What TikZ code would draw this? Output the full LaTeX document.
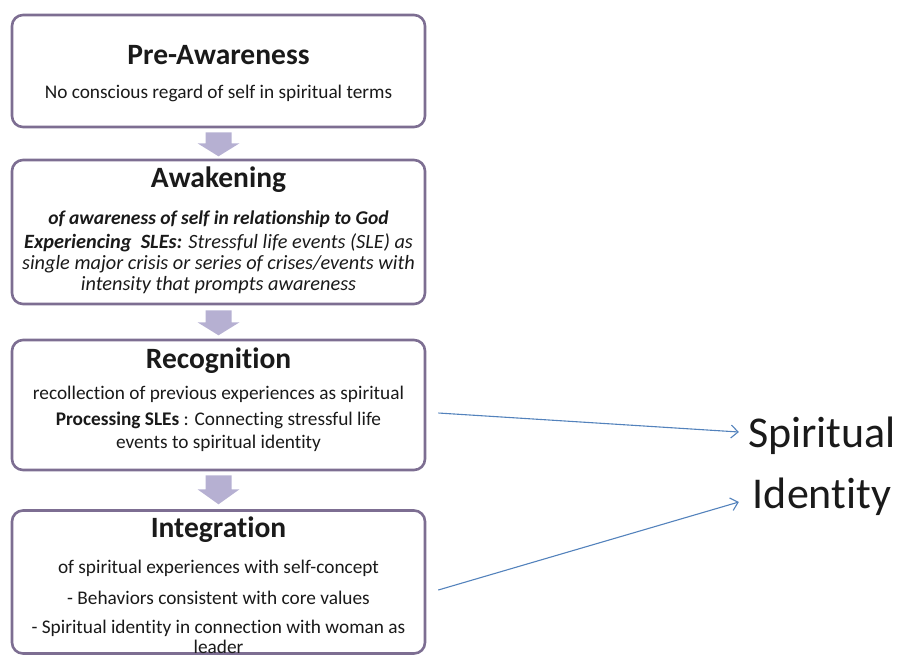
\documentclass[tikz,border=0pt]{standalone}
\usepackage{fontspec}
\setmainfont{Carlito}[Ligatures={NoCommon}]
\usetikzlibrary{arrows.meta,calc}
\definecolor{boxline}{HTML}{7D6E92}
\definecolor{blockarr}{HTML}{B6B0D2}
\definecolor{linkblue}{HTML}{5382BC}
\definecolor{txt}{HTML}{1A1A1A}
\tikzset{
  stagebox/.style={draw=boxline, line width=2.6pt, rounded corners=11pt, fill=white, inner sep=0pt},
  ttl/.style={font=\fontsize{29.5}{30}\selectfont\bfseries, text=txt, inner sep=0pt},
  body/.style={font=\fontsize{19.3}{21}\selectfont, text=txt, inner sep=0pt, align=center},
  link/.style={draw=linkblue, line width=1.1pt, -{Straight Barb[length=7pt,width=13pt,line width=1.1pt]}},
}
\begin{document}
\begin{tikzpicture}[x=1pt,y=-1pt]
\useasboundingbox (0,0) rectangle (902,659);
% boxes
\node[stagebox, minimum width=413pt, minimum height=112pt] (b1) at (218.5,71) {};
\node[stagebox, minimum width=413pt, minimum height=144pt] (b2) at (218.5,232) {};
\node[stagebox, minimum width=413pt, minimum height=130pt] (b3) at (218.5,405) {};
\node[stagebox, minimum width=413pt, minimum height=143pt] (b4) at (218.5,582) {};
% block arrows
\foreach \a/\s/\h/\t in {b1/4/15/28, b2/5/17/30, b3/4/18/33}{
  \fill[blockarr] ($(\a.south)+(-13,\s)$) -- ($(\a.south)+(13,\s)$) -- ($(\a.south)+(13,\h)$)
    -- ($(\a.south)+(21,\h)$) -- ($(\a.south)+(0,\t)$) -- ($(\a.south)+(-21,\h)$)
    -- ($(\a.south)+(-13,\h)$) -- cycle;
}
% text box 1
\node[ttl] (t1) at (218.5,55) {Pre-Awareness};
\node[body] (s1) at (218.5,93) {No conscious regard of self in spiritual terms};
% text box 2
\node[ttl] (t2) at (218.5,180) {Awakening};
\node[body, font=\fontsize{19.5}{21}\selectfont\bfseries\itshape] (s2) at (218.5,219) {of awareness of self in relationship to God};
\node[body, font=\fontsize{20.3}{21}\selectfont\itshape] (s2b) at (218.5,264) {\textbf{Experiencing\ \ SLEs:} Stressful life events (SLE) as\\single major crisis or series of crises/events with\\intensity that prompts awareness};
% text box 3
\node[ttl] (t3) at (218.5,361) {Recognition};
\node[body] (s3) at (218.5,394) {recollection of previous experiences as spiritual};
\node[body, font=\fontsize{19.3}{22.5}\selectfont] (s3b) at (218.5,432) {\textbf{Processing SLEs} : Connecting stressful life\\events to spiritual identity};
% text box 4
\node[ttl] (t4) at (218.5,530) {Integration};
\node[body] (s4) at (218.5,568) {of spiritual experiences with self-concept};
\node[body] (s4b) at (218.5,598) {- Behaviors consistent with core values};
\node[body, font=\fontsize{19.3}{20.5}\selectfont] (s4c) at (218.5,637) {- Spiritual identity in connection with woman as\\leader};
% spiritual identity
\node[font=\fontsize{44}{61}\selectfont, text=txt, align=center, inner sep=0pt] (si) at (822,466) {Spiritual\\Identity};
\coordinate (e1) at ($(b3.east)+(12,8)$);
\coordinate (e2) at ($(b4.east)+(12,8)$);
\coordinate (a1) at ($(si.west)+(-9,-34)$);
\coordinate (a2) at ($(si.west)+(-9,36)$);
\draw[link] (e1) -- (a1);
\draw[link] (e2) -- (a2);
\end{tikzpicture}
\end{document}
